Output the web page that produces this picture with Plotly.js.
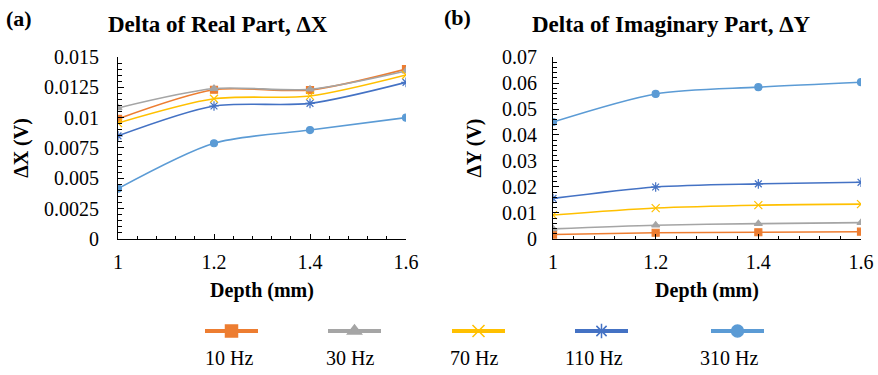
<!DOCTYPE html>
<html>
<head>
<meta charset="utf-8">
<script src="https://cdn.plot.ly/plotly-3.0.1.min.js"></script>
</head>
<body style="margin:0">
<div id="chart" style="width:878px;height:375px"></div>
<script>
// ---- Data ----
const depth = [1, 1.2, 1.4, 1.6];
const freqLabels = ['10 Hz', '30 Hz', '70 Hz', '110 Hz', '310 Hz'];

// Delta of real part, ΔX (V)
const dX_10Hz  = [0.0099, 0.0123, 0.01228, 0.0140];
const dX_30Hz  = [0.0108, 0.0124, 0.01234, 0.01385];
const dX_70Hz  = [0.00956, 0.01156, 0.01179, 0.01352];
const dX_110Hz = [0.0085, 0.01096, 0.01118, 0.01291];
const dX_310Hz = [0.00415, 0.00789, 0.00898, 0.0100];

// Delta of imaginary part, ΔY (V)
const dY_10Hz  = [0.0017, 0.0024, 0.0026, 0.0028];
const dY_30Hz  = [0.0039, 0.0053, 0.0059, 0.0063];
const dY_70Hz  = [0.0092, 0.0119, 0.0130, 0.0134];
const dY_110Hz = [0.0156, 0.0200, 0.0212, 0.0218];
const dY_310Hz = [0.0450, 0.0558, 0.0584, 0.0603];

const xTickVals = [1, 1.2, 1.4, 1.6];
const xTickText = ['1', '1.2', '1.4', '1.6'];
const yXTickVals = [0, 0.0025, 0.005, 0.0075, 0.01, 0.0125, 0.015];
const yXTickText = ['0', '0.0025', '0.005', '0.0075', '0.01', '0.0125', '0.015'];
const yYTickVals = [0, 0.01, 0.02, 0.03, 0.04, 0.05, 0.06, 0.07];
const yYTickText = ['0', '0.01', '0.02', '0.03', '0.04', '0.05', '0.06', '0.07'];

// ---- Styles ----
const colors = ['#ED7D31', '#A5A5A5', '#FFC000', '#4472C4', '#5B9BD5'];
const symbols = ['square', 'triangle-up', 'x-thin-open', 'asterisk-open', 'circle'];
const msize = [7, 7, 8, 8, 7];

const seriesX = [dX_10Hz, dX_30Hz, dX_70Hz, dX_110Hz, dX_310Hz];
const seriesY = [dY_10Hz, dY_30Hz, dY_70Hz, dY_110Hz, dY_310Hz];

const traces = [];
function mk(xv, yv, i, xa, ya) {
  return {
    x: xv, y: yv, xaxis: xa, yaxis: ya, type: 'scatter', mode: 'lines+markers',
    name: freqLabels[i], showlegend: false,
    line: {color: colors[i], width: 1.6, shape: 'spline', smoothing: 0.8},
    marker: {symbol: symbols[i], size: msize[i], color: colors[i], line: {color: colors[i], width: 1.2}},
    hoverinfo: 'x+y+name'
  };
}
for (let i = 0; i < 5; i++) traces.push(mk(depth, seriesX[i], i, 'x', 'y'));
for (let i = 0; i < 5; i++) traces.push(mk(depth, seriesY[i], i, 'x2', 'y2'));
// legend entries: one legend box per entry so each sits over its label
const legendIds = ['legend', 'legend2', 'legend3', 'legend4', 'legend5'];
for (let i = 0; i < 5; i++) {
  traces.push({
    x: [null], y: [null], xaxis: 'x', yaxis: 'y', type: 'scatter', mode: 'lines+markers',
    name: ' ', showlegend: true, legend: legendIds[i],
    line: {color: colors[i], width: 4},
    marker: {symbol: symbols[i], size: 12, color: colors[i], line: {color: colors[i], width: 1.5}}
  });
}

const FAM = 'Liberation Serif, Times New Roman, serif';
function f(size) { return {family: FAM, size: size, color: '#000'}; }
function xAxis(anchor, domain) {
  return {
    anchor: anchor, domain: domain, range: [1, 1.6], tickvals: xTickVals, ticktext: xTickText,
    showgrid: false, zeroline: false, showline: true, linecolor: '#000', linewidth: 1,
    ticks: 'inside', ticklen: 5, tickcolor: '#000', ticklabelstandoff: 5,
    minor: {dtick: 0.04, ticks: 'inside', ticklen: 3, tickcolor: '#000', showgrid: false},
    tickfont: f(20),
    title: {text: '<b>Depth (mm)</b>', font: f(20), standoff: 11}
  };
}
function yAxis(anchor, domain, range, tv, tt, mdt, title, stand, tstand) {
  return {
    anchor: anchor, domain: domain, range: range, tickvals: tv, ticktext: tt,
    showgrid: false, zeroline: false, showline: true, linecolor: '#000', linewidth: 1,
    ticks: 'inside', ticklen: 6, tickcolor: '#000', ticklabelstandoff: stand,
    minor: {dtick: mdt, ticks: 'inside', ticklen: 4, tickcolor: '#000', showgrid: false},
    tickfont: f(20),
    title: {text: title, font: f(20), standoff: tstand}
  };
}

const yDom = [0.3627, 0.848];
const legendLeft = [200, 323, 447, 570, 706];
const layout = {
  width: 878, height: 375, margin: {l: 0, r: 0, t: 0, b: 0},
  paper_bgcolor: '#fff', plot_bgcolor: '#fff', font: f(16),
  xaxis: xAxis('y', [118/878, 406/878]),
  yaxis: yAxis('x', yDom, [0, 0.015], yXTickVals, yXTickText, 0.0005, '<b>ΔX (V)</b>', 14, 9),
  xaxis2: xAxis('y2', [553/878, 861/878]),
  yaxis2: yAxis('x2', yDom, [0, 0.07], yYTickVals, yYTickText, 0.002, '<b>ΔY (V)</b>', 11, 14),
  annotations: [
    {text: '<b>(a)</b>', xref: 'paper', yref: 'paper', x: 4/878, y: 1 - 18/375, xanchor: 'left', yanchor: 'middle', showarrow: false, font: f(22)},
    {text: '<b>Delta of Real Part, ΔX</b>', xref: 'paper', yref: 'paper', x: 218/878, y: 1 - 25/375, xanchor: 'center', yanchor: 'middle', showarrow: false, font: f(23)},
    {text: '<b>(b)</b>', xref: 'paper', yref: 'paper', x: 442/878, y: 1 - 17/375, xanchor: 'left', yanchor: 'middle', showarrow: false, font: f(22)},
    {text: '<b>Delta of Imaginary Part, ΔY</b>', xref: 'paper', yref: 'paper', x: 671/878, y: 1 - 25/375, xanchor: 'center', yanchor: 'middle', showarrow: false, font: f(23)}
  ]
};
legendIds.forEach((id, i) => {
  layout[id] = {orientation: 'h', x: legendLeft[i]/878, xanchor: 'left', y: 1 - 331/375, yanchor: 'middle',
    itemwidth: 53, font: f(2), bgcolor: 'rgba(0,0,0,0)', borderwidth: 0,
    itemclick: false, itemdoubleclick: false};
});
const labelCenters = [229, 350, 474, 594, 729];
freqLabels.forEach((t, i) => {
  layout.annotations.push({text: t, xref: 'paper', yref: 'paper', x: labelCenters[i]/878, y: 1 - 358/375,
    xanchor: 'center', yanchor: 'middle', showarrow: false, font: f(20)});
});

Plotly.newPlot('chart', traces, layout, {displayModeBar: false, staticPlot: true});
</script>
</body>
</html>
